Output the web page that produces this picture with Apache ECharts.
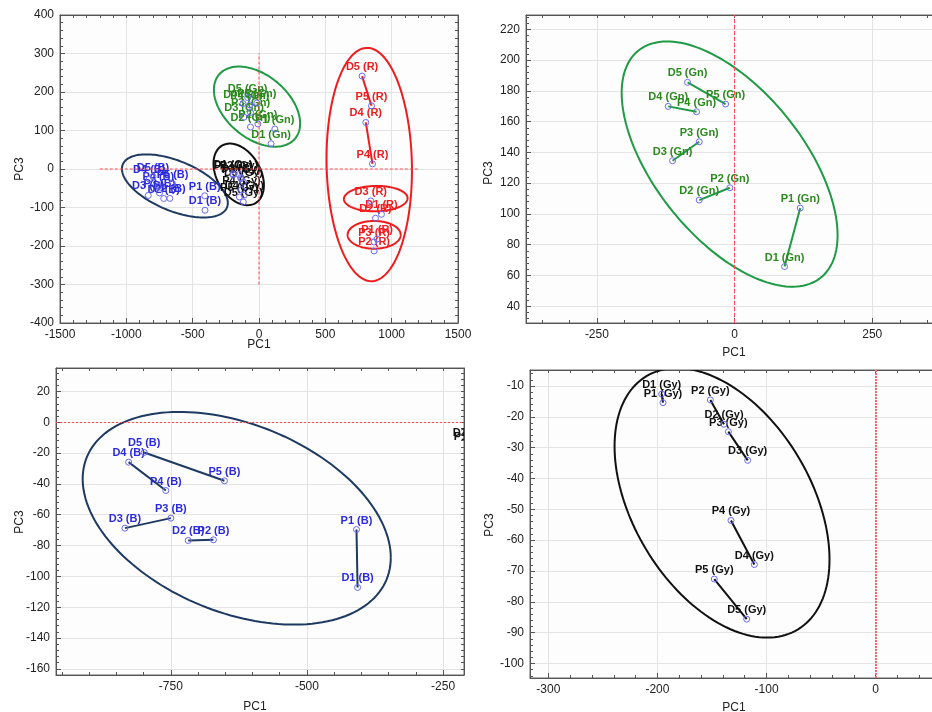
<!DOCTYPE html>
<html><head><meta charset="utf-8">
<script src="https://cdn.jsdelivr.net/npm/echarts@6/dist/echarts.min.js"></script>
<style>html,body{margin:0;padding:0;background:#fff}#c{width:932px;height:712px}</style>
</head><body><div id="c"></div>
<script>
// ---------- data ----------
const names = ['D1','P1','D2','P2','D3','P3','D4','P4','D5','P5'];
const gnX = [90.8, 119.2, -64.2, -8.5, -112.6, -64.2, -120.5, -69.0, -85.4, -16.3];
const gnY = [65.8, 103.8, 109.0, 117.0, 134.6, 146.9, 169.9, 166.4, 185.5, 171.4];
const bX  = [-407, -409, -718.2, -671.8, -834.4, -750.0, -827.6, -759.2, -798.9, -651.6];
const bY  = [-107.2, -69.6, -76.7, -76.3, -68.7, -62.2, -25.9, -44.3, -19.6, -38.0];
const gyX = [-196.1, -194.9, -139.0, -151.5, -117.3, -135.0, -111.2, -132.6, -118.2, -147.9];
const gyY = [-12.6, -15.4, -22.4, -14.5, -34.1, -24.8, -67.9, -53.6, -85.6, -72.6];
const rX  = [923, 890.5, 878, 867.6, 842.8, 867.6, 805, 855.5, 777, 848];
const rY  = [-117.5, -181.7, -127.9, -212.9, -82.9, -189.5, 120.9, 13.3, 241.3, 164.1];
// pairs (Dn - Pn) joined by a line, indices into the arrays above
const allPairs = [[0,1],[2,3],[4,5],[6,7],[8,9]];
const rPairsOverview = [[6,7],[8,9]];
// ellipses: [centerX, centerY, halfWidthX, halfHeightY, correlation]
const ellGn1 = [-15, 162, 325, 104, -0.42];
const ellGy1 = [-153, -14, 190, 80, -0.35];
const ellB1  = [-634, -44, 399, 82, -0.54];
const ellR1a = [831, 11.6, 322, 303, -0.05];
const ellR1b = [880, -77, 240, 33, 0.03];
const ellR1c = [868, -171, 200, 36, 0.0];
const ellGn2 = [-9, 132.4, 196, 79.7, -0.58];
const ellB3  = [-629, -62.3, 283, 69, -0.37];
const ellGy4 = [-140.8, -47.9, 98.5, 43.7, -0.42];
// axis ranges and tick labels
const p1XRange = [-1500, 1500], p1YRange = [-400, 400];
const p1XTicks = [-1500,-1000,-500,0,500,1000,1500];
const p1YTicks = [-400,-300,-200,-100,0,100,200,300,400];
const p2XRange = [-378.7, 365.7], p2YRange = [29.1, 229.3];
const p2XTicks = [-250,0,250];
const p2YTicks = [40,60,80,100,120,140,160,180,200,220];
const p3XRange = [-961, -211.5], p3YRange = [-164, 35.2];
const p3XTicks = [-750,-500,-250];
const p3YTicks = [-160,-140,-120,-100,-80,-60,-40,-20,0,20];
const p4XRange = [-316.8, 55.3], p4YRange = [-104.7, -4.8];
const p4XTicks = [-300,-200,-100,0];
const p4YTicks = [-100,-90,-80,-70,-60,-50,-40,-30,-20,-10];
// reference lines in overview
const ref1V = [[0,-300],[0,300]];
const ref1H = [[-1200,0],[1200,0]];

// ---------- styling ----------
const FONT = '"Liberation Sans", Arial, sans-serif';
const C = {
  gn: {label:'#2a8a1e', line:'#1f9a45'},
  b:  {label:'#2b2bdc', line:'#1f3a62'},
  gy: {label:'#111111', line:'#111111'},
  r:  {label:'#ee1c1c', line:'#ee1c1c'}
};
const MARK = '#6a6af2';

const grids = [
  {left:60, top:15, width:398, height:308},
  {left:526, top:15, width:410, height:308},
  {left:56, top:368, width:408, height:307},
  {left:530, top:370, width:406, height:308}
];

const xAxis = [], yAxis = [];
function minors(range, ticks){
  const step = (ticks[1]-ticks[0])/5, out = [];
  const start = Math.ceil(range[0]/step)*step;
  for (let v = start; v <= range[1]+1e-9; v += step){
    const r = Math.round(v*1000)/1000;
    if (ticks.indexOf(r) < 0) out.push(r);
  }
  return out;
}
function addAxes(gi, xr, yr, xt, yt){
  const xm = minors(xr, xt), ym = minors(yr, yt);
  const lab = {color:'#222', fontSize:12, fontFamily:FONT, margin:6, formatter: v => String(v)};
  const line = {show:true, onZero:false, lineStyle:{color:'#555', width:1}};
  const noLine = {show:false, onZero:false};
  const tk = (vals, len) => ({show:true, inside:true, length:len, customValues:vals, lineStyle:{color:'#555'}});
  const base = (r) => ({type:'value', gridIndex:gi, min:r[0], max:r[1]});
  xAxis.push(Object.assign(base(xr), {position:'bottom', axisLine:line, axisTick:tk(xt,5),
    axisLabel:Object.assign({customValues:xt}, lab), splitLine:{show:true, lineStyle:{color:'#e4e4e4'}}}));
  xAxis.push(Object.assign(base(xr), {position:'bottom', axisLine:noLine, axisTick:tk(xm,3),
    axisLabel:{show:false}, splitLine:{show:false}}));
  xAxis.push(Object.assign(base(xr), {position:'top', axisLine:line, axisTick:tk(xt.concat(xm),3),
    axisLabel:{show:false}, splitLine:{show:false}}));
  yAxis.push(Object.assign(base(yr), {position:'left', axisLine:line, axisTick:tk(yt,5),
    axisLabel:Object.assign({customValues:yt}, lab), splitLine:{show:true, lineStyle:{color:'#e4e4e4'}}}));
  yAxis.push(Object.assign(base(yr), {position:'left', axisLine:noLine, axisTick:tk(ym,3),
    axisLabel:{show:false}, splitLine:{show:false}}));
  yAxis.push(Object.assign(base(yr), {position:'right', axisLine:line, axisTick:tk(yt.concat(ym),3),
    axisLabel:{show:false}, splitLine:{show:false}}));
}
addAxes(0, p1XRange, p1YRange, p1XTicks, p1YTicks);
addAxes(1, p2XRange, p2YRange, p2XTicks, p2YTicks);
addAxes(2, p3XRange, p3YRange, p3XTicks, p3YTicks);
addAxes(3, p4XRange, p4YRange, p4XTicks, p4YTicks);

const pts = (xs, ys) => xs.map((x,i) => [x, ys[i]]);
const series = [];
function ax(p){ return {xAxisIndex:3*p, yAxisIndex:3*p}; }

function ellipse(p, e, color){
  series.push(Object.assign({type:'custom', clip:true, silent:true, data:[e],
    renderItem: (params, api) => {
      const cx=api.value(0), cy=api.value(1), sx=api.value(2), sy=api.value(3), r=api.value(4);
      const k = Math.sqrt(1-r*r), out = [];
      for (let i=0;i<=160;i++){
        const t = i/160*2*Math.PI;
        out.push(api.coord([cx+sx*Math.cos(t), cy+sy*(r*Math.cos(t)+k*Math.sin(t))]));
      }
      return {type:'polyline', shape:{points:out}, style:{stroke:color, lineWidth:2, fill:null}};
    }}, ax(p)));
}
function pairLines(p, xs, ys, pairs, color){
  series.push(Object.assign({type:'lines', coordinateSystem:'cartesian2d', silent:true,
    data: pairs.map(pr => ({coords:[[xs[pr[0]], ys[pr[0]]],[xs[pr[1]], ys[pr[1]]]]})),
    lineStyle:{color:color, width:2, opacity:1}}, ax(p)));
}
function markers(p, xs, ys, extra){
  series.push(Object.assign({type:'scatter', silent:true, symbol:'circle', symbolSize:6,
    data: pts(xs, ys),
    itemStyle:{color:'rgba(0,0,0,0)', borderColor:MARK, borderWidth:1, opacity:1}}, ax(p), extra||{}));
}
function labels(p, xs, ys, suffix, color){
  series.push(Object.assign({type:'custom', clip:true, silent:true, data: pts(xs, ys),
    renderItem: (params, api) => {
      const c = api.coord([api.value(0), api.value(1)]);
      return {type:'text', x:c[0], y:c[1]-9, style:{text: names[params.dataIndex]+' '+suffix,
        fill:color, font:'bold 11px '+FONT, align:'center', verticalAlign:'middle'}};
    }}, ax(p)));
}
function refLine(p, data, style){
  series.push(Object.assign({type:'line', silent:true, symbol:'none', data:data,
    lineStyle:style}, ax(p)));
}
const redDash = {color:'#ff4b4b', width:1, type:[3,2]};

// Panel 1: overview
ellipse(0, ellGn1, C.gn.line);
ellipse(0, ellGy1, C.gy.line);
ellipse(0, ellB1, C.b.line);
ellipse(0, ellR1a, C.r.line);
ellipse(0, ellR1b, C.r.line);
ellipse(0, ellR1c, C.r.line);
refLine(0, ref1V, redDash);
refLine(0, ref1H, redDash);
pairLines(0, rX, rY, rPairsOverview, C.r.line);
markers(0, gnX, gnY); markers(0, bX, bY); markers(0, gyX, gyY); markers(0, rX, rY);
labels(0, bX, bY, '(B)', C.b.label);
labels(0, gnX, gnY, '(Gn)', C.gn.label);
labels(0, gyX, gyY, '(Gy)', C.gy.label);
labels(0, rX, rY, '(R)', C.r.label);

// Panel 2: Gn
ellipse(1, ellGn2, C.gn.line);
pairLines(1, gnX, gnY, allPairs, C.gn.line);
markers(1, gnX, gnY, {markLine:{silent:true, symbol:'none', label:{show:false},
  lineStyle:{color:'#ff4b4b', width:1, type:[4,2]}, data:[{xAxis:0}]}});
labels(1, gnX, gnY, '(Gn)', C.gn.label);

// Panel 3: B
ellipse(2, ellB3, C.b.line);
pairLines(2, bX, bY, allPairs, C.b.line);
markers(2, bX, bY, {markLine:{silent:true, symbol:'none', label:{show:false},
  lineStyle:{color:'#ff4b4b', width:1, type:[2,2]}, data:[{yAxis:0}]}});
labels(2, bX, bY, '(B)', C.b.label);
labels(2, gyX, gyY, '(Gy)', C.gy.label);

// Panel 4: Gy
ellipse(3, ellGy4, C.gy.line);
pairLines(3, gyX, gyY, allPairs, C.gy.line);
markers(3, gyX, gyY, {markLine:{silent:true, symbol:'none', label:{show:false},
  lineStyle:{color:'#f26b6b', width:2, type:[2,1]}, data:[{xAxis:0}]}});
labels(3, gyX, gyY, '(Gy)', C.gy.label);

const axisTitles = [
  [259, 345, 'PC1', 0], [20, 169, 'PC3', 1],
  [734, 353, 'PC1', 0], [489, 173, 'PC3', 1],
  [255, 707, 'PC1', 0], [20, 522, 'PC3', 1],
  [734, 708, 'PC1', 0], [490, 525, 'PC3', 1]
];

const chart = echarts.init(document.getElementById('c'), null, {renderer:'canvas'});
chart.setOption({
  animation:false,
  backgroundColor:'#ffffff',
  textStyle:{fontFamily:FONT},
  grid: grids.map(g => Object.assign({show:true, backgroundColor:'#fdfdfd', borderColor:'#666', borderWidth:1,
    containLabel:false, outerBoundsMode:'none'}, g)),
  xAxis, yAxis, series,
  graphic: axisTitles.map(t => ({type:'text', x:t[0], y:t[1], rotation: t[3] ? Math.PI/2 : 0, z:100,
    style:{text:t[2], fill:'#222', font:'12px '+FONT, align:'center', verticalAlign:'middle'}}))
});
</script></body></html>
